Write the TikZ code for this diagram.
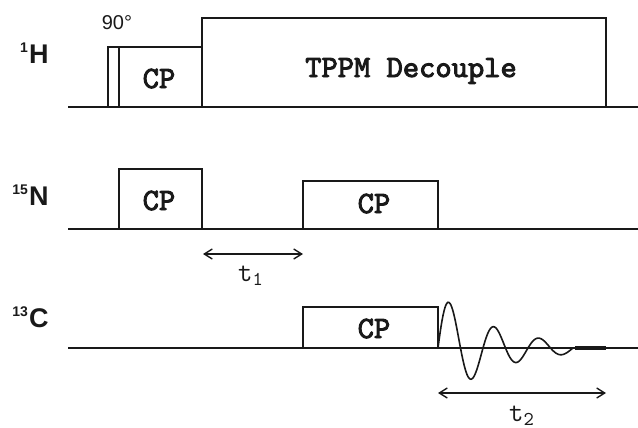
\documentclass[tikz,border=0pt]{standalone}
\usepackage{fontspec}
\setmainfont{Liberation Sans}
\setsansfont{Liberation Sans}
\newfontfamily\cpfont[FakeBold=3]{lmmono10-regular.otf}
\usepackage{tikz}
\usetikzlibrary{arrows.meta}
\definecolor{pulseblack}{RGB}{25,25,25}
\newcommand{\isotope}[2]{%
  \raisebox{5.2pt}{\fontsize{7}{8}\selectfont #1}\hspace{0.6pt}#2}
\tikzset{
  pulsebox/.style={
    draw=pulseblack, fill=white, line width=0.9pt
  },
  channelline/.style={
    draw=pulseblack, line width=0.9pt
  },
  cplabel/.style={
    font=\fontsize{15.5}{17}\selectfont\cpfont,
    text=pulseblack, inner sep=0pt, anchor=base
  },
  nucleuslabel/.style={
    font=\fontsize{13.5}{15}\selectfont\sffamily\bfseries,
    text=pulseblack, inner sep=0pt, anchor=base east
  },
  anglelabel/.style={
    font=\fontsize{10}{12}\selectfont\sffamily,
    text=pulseblack, inner sep=0pt, anchor=base
  },
  timearrow/.style={
    {Straight Barb[length=4pt,width=5pt]}-{Straight Barb[length=4pt,width=5pt]},
    draw=pulseblack, line width=0.7pt
  },
  timelabel/.style={
    font=\fontsize{14}{16}\selectfont\ttfamily,
    text=pulseblack, inner sep=0pt
  },
  fidline/.style={
    draw=pulseblack, line width=0.8pt
  },
}

\begin{document}
\begin{tikzpicture}[x=0.5pt, y=-0.5pt]

  \useasboundingbox (0,0) rectangle (638,428);

  %% Channel labels
  \node[nucleuslabel] (lblH) at (49,63) {\isotope{1}{H}};
  \node[nucleuslabel] (lblN) at (49,205) {\isotope{15}{N}};
  \node[nucleuslabel] (lblC) at (49,327) {\isotope{13}{C}};

  %% Channel lines
  \draw[channelline] (68,107) -- (638,107);
  \draw[channelline] (68,229) -- (638,229);
  \draw[channelline] (68,348) -- (638,348);

  %% 1H channel
  \draw[pulsebox] (108,107) rectangle (119,47);
  \draw[pulsebox] (119,107) rectangle (202,47);
  \draw[pulsebox] (202,107) rectangle (606,18);
  \node[anglelabel] (ninety) at (117,30) {90°};
  \node[cplabel] (cpH) at (159,88) {CP};
  \node[cplabel] (tppm) at (411,77) {TPPM Decouple};

  %% 15N channel
  \draw[pulsebox] (119,229) rectangle (202,169);
  \draw[pulsebox] (303,229) rectangle (438,181);
  \node[cplabel] (cpNa) at (159,210) {CP};
  \node[cplabel] (cpNb) at (374,213) {CP};

  %% t1 evolution
  \coordinate (tOneA) at (203,254);
  \coordinate (tOneB) at (303,254);
  \draw[timearrow] (tOneA) -- (tOneB);
  \node[timelabel] (tOne) at (251,276) {t\textsubscript{1}};

  %% 13C channel
  \draw[pulsebox] (303,348) rectangle (438,307);
  \node[cplabel] (cpC) at (374,338) {CP};

  %% FID
  \draw[fidline] plot[variable=\t, domain=0:135, samples=136]
    ({438+\t}, {348-55*exp(-0.017*\t)*sin(8*\t)});
  \draw[draw=pulseblack, line width=1.8pt] (575,348) -- (606,348);

  %% t2 detection
  \coordinate (tTwoA) at (438,393);
  \coordinate (tTwoB) at (606,393);
  \draw[timearrow] (tTwoA) -- (tTwoB);
  \node[timelabel] (tTwo) at (522,416) {t\textsubscript{2}};

\end{tikzpicture}
\end{document}
